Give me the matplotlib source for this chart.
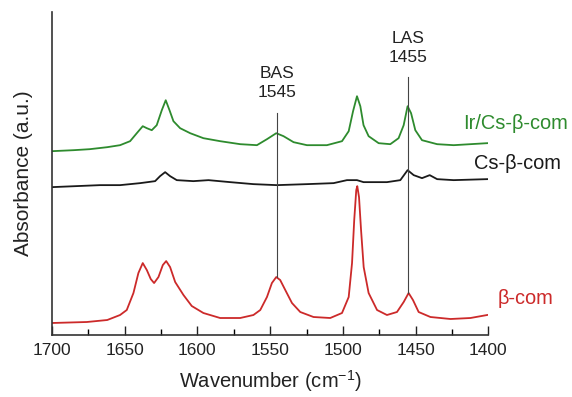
import matplotlib.pyplot as plt
from matplotlib.ticker import MultipleLocator

plt.rcParams['font.family'] = ['Liberation Sans', 'DejaVu Sans']

# Ir/Cs-beta-com (green)
wn_ir = [1700, 1685, 1674, 1662, 1653.2, 1646.3, 1641.7, 1637.6, 1634.8, 1631.4, 1628,
         1624.5, 1621.8, 1619.2, 1616.5, 1611.9, 1605, 1595.9, 1584.4, 1570.6, 1559.1,
         1552.2, 1545.8, 1540.8, 1533.9, 1524.7, 1511, 1500.6, 1496, 1493, 1490.3, 1488,
         1485.8, 1482.3, 1475.4, 1467.4, 1461.7, 1458.2, 1455.5, 1453.1, 1450.2, 1445.6,
         1435.2, 1423.8, 1400.8]
abs_ir = [1.84, 1.85, 1.86, 1.88, 1.90, 1.94, 2.02, 2.09, 2.07, 2.05, 2.10,
          2.25, 2.35, 2.25, 2.14, 2.07, 2.02, 1.97, 1.94, 1.91, 1.90,
          1.96, 2.02, 1.99, 1.93, 1.90, 1.90, 1.94, 2.04, 2.24, 2.39, 2.29,
          2.10, 1.99, 1.92, 1.91, 1.97, 2.10, 2.29, 2.22, 2.05, 1.95,
          1.91, 1.90, 1.92]

# Cs-beta-com (black)
wn_cs = [1700, 1667, 1653.2, 1639.4, 1629.1, 1625.7, 1622.2, 1618.8, 1614.2, 1602.8,
         1592.4, 1577.5, 1561.5, 1545.4, 1524.7, 1506.4, 1497.2, 1490.3, 1485.8, 1469.7,
         1460.5, 1455.5, 1451.3, 1445.6, 1440.3, 1435.2, 1423.8, 1400.8]
abs_cs = [1.48, 1.50, 1.50, 1.52, 1.54, 1.59, 1.63, 1.59, 1.55, 1.54,
          1.55, 1.53, 1.51, 1.50, 1.51, 1.52, 1.55, 1.55, 1.53, 1.53,
          1.55, 1.65, 1.60, 1.57, 1.60, 1.56, 1.55, 1.56]

# beta-com (red)
wn_b = [1700, 1676, 1662, 1653.2, 1648.6, 1644, 1640.6, 1637.6, 1634.8, 1632.1, 1629.8,
        1626.8, 1623.8, 1621.5, 1618.8, 1615.3, 1609.6, 1603.9, 1595.9, 1584.4, 1570.6,
        1561.5, 1556.8, 1552.2, 1548.8, 1545.8, 1543.1, 1539.6, 1535, 1529.3, 1520.2,
        1508.7, 1500.6, 1496, 1493.7, 1492.2, 1490.8, 1490.1, 1488.9, 1487.5, 1485.7,
        1482.3, 1476.5, 1469.7, 1462.8, 1458.2, 1454.8, 1451.8, 1447.9, 1439.8, 1426,
        1412.3, 1400.8]
abs_b = [0.12, 0.13, 0.15, 0.20, 0.25, 0.42, 0.62, 0.72, 0.65, 0.56, 0.52,
         0.58, 0.70, 0.74, 0.68, 0.53, 0.40, 0.29, 0.22, 0.17, 0.17,
         0.20, 0.25, 0.38, 0.52, 0.58, 0.55, 0.45, 0.32, 0.23, 0.18,
         0.17, 0.22, 0.38, 0.72, 1.15, 1.45, 1.49, 1.38, 1.05, 0.68,
         0.42, 0.25, 0.20, 0.23, 0.33, 0.42, 0.35, 0.23, 0.18, 0.16,
         0.17, 0.20]

# marker lines: position, top, bottom, label
site_wn = [1545, 1455]
site_top = [2.22, 2.58]
site_bottom = [0.58, 0.42]
site_text = ['BAS\n1545', 'LAS\n1455']
site_text_y = [2.52, 2.875]

fig = plt.figure(figsize=(5.72, 3.97), dpi=100)
ax = fig.add_axes([0.0909, 0.1562, 0.7628, 0.8128])

green = '#2e8b2e'
red = '#cc2a2a'
black = '#1a1a1a'

ax.plot(wn_ir, abs_ir, color=green, lw=1.3)
ax.plot(wn_cs, abs_cs, color=black, lw=1.3)
ax.plot(wn_b, abs_b, color=red, lw=1.3)

for w, t, b, s, ty in zip(site_wn, site_top, site_bottom, site_text, site_text_y):
    ax.plot([w, w], [b, t], color='#444444', lw=0.8)
    ax.text(w, ty, s, ha='center', va='center', fontsize=12.5, linespacing=1.35, color='#222222')

ax.text(1417, 2.12, 'Ir/Cs-β-com', color=green, fontsize=14.4, va='center', ha='left', clip_on=False)
ax.text(1410, 1.72, 'Cs-β-com', color=black, fontsize=14.4, va='center', ha='left', clip_on=False)
ax.text(1393.5, 0.37, 'β-com', color=red, fontsize=14.4, va='center', ha='left', clip_on=False)

ax.set_xlim(1700, 1400)
ax.set_ylim(0, 3.23)
ax.xaxis.set_major_locator(MultipleLocator(50))
ax.xaxis.set_minor_locator(MultipleLocator(25))
ax.tick_params(axis='x', which='major', direction='in', length=6.5, width=1, pad=6,
               labelsize=12.5, colors='#222222')
ax.tick_params(axis='x', which='minor', direction='in', length=4, width=1)
ax.set_yticks([])
for side in ['top', 'right']:
    ax.spines[side].set_visible(False)
for side in ['left', 'bottom']:
    ax.spines[side].set_linewidth(1.2)
    ax.spines[side].set_color('#333333')

ax.set_xlabel('Wavenumber (cm$^{\\mathregular{-1}}$)', fontsize=14.5, labelpad=7, color='#222222')
ax.set_ylabel('Absorbance (a.u.)', fontsize=15, labelpad=14, color='#222222')

fig.savefig('out.png', dpi=100)
